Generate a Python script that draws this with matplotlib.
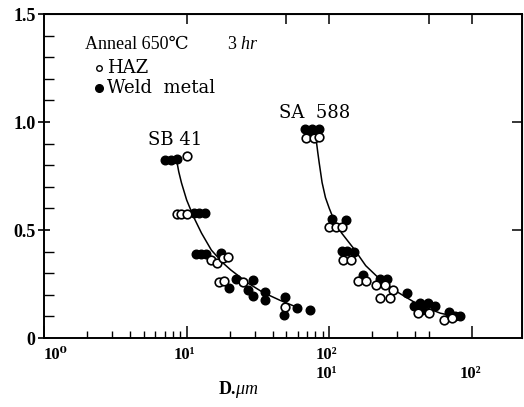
import matplotlib
matplotlib.use("Agg")
import matplotlib.pyplot as plt
from matplotlib.ticker import FixedLocator, NullFormatter, MultipleLocator
import numpy as np

plt.rcParams['font.family'] = ['Liberation Serif', 'DejaVu Serif']
plt.rcParams['mathtext.fontset'] = 'custom'
plt.rcParams['mathtext.rm'] = 'Liberation Serif'
plt.rcParams['mathtext.it'] = 'Liberation Serif:italic'
plt.rcParams['mathtext.bf'] = 'Liberation Serif:bold'

# ---- data (grain size D in um, ratio on y) ----
# SB 41 (read on the upper x scale)
sb_haz_d = [10.1, 8.5, 9.2, 10.0, 14.9, 16.3, 18.0, 19.5, 16.9, 18.3, 24.7, 49]
sb_haz_y = [0.845, 0.575, 0.575, 0.575, 0.36, 0.345, 0.37, 0.375, 0.26, 0.265, 0.26, 0.145]
sb_weld_d = [7.1, 7.8, 8.6, 11.2, 12.3, 13.5, 11.7, 12.7, 13.7, 17.4, 19.8, 22.1,
             29.0, 26.8, 29.4, 35.6, 35.6, 49, 48, 59, 73]
sb_weld_y = [0.825, 0.825, 0.83, 0.58, 0.58, 0.58, 0.39, 0.39, 0.39, 0.395, 0.23, 0.275,
             0.27, 0.22, 0.195, 0.215, 0.175, 0.19, 0.105, 0.14, 0.13]
sb_curve_d = [8.5, 8.8, 9.2, 10.0, 11.2, 12.7, 14.9, 18.0, 20.4, 26.8, 34.5, 45, 58]
sb_curve_y = [0.824, 0.77, 0.718, 0.639, 0.56, 0.486, 0.407, 0.347, 0.315, 0.255, 0.21, 0.175, 0.145]

# SA 588 (read on the lower, shifted x scale)
sa_haz_d = [6.9, 7.8, 8.4, 10.0, 11.2, 12.2, 12.5, 14.3, 16.0, 18.0, 21.4, 24.4, 27.8,
            22.5, 26.5, 42, 50, 63.5, 72]
sa_haz_y = [0.925, 0.925, 0.93, 0.515, 0.515, 0.515, 0.36, 0.36, 0.265, 0.265, 0.245, 0.245,
            0.22, 0.185, 0.185, 0.115, 0.115, 0.085, 0.093]
sa_weld_d = [6.8, 7.6, 8.4, 7.2, 8.1, 10.5, 13.1, 12.2, 13.4, 15.0, 17.1, 22.5, 25.2, 34.8,
             39, 43, 49, 55, 45, 69, 82, 76]
sa_weld_y = [0.97, 0.97, 0.97, 0.95, 0.95, 0.55, 0.545, 0.405, 0.405, 0.40, 0.29, 0.275, 0.275,
             0.21, 0.15, 0.16, 0.16, 0.15, 0.13, 0.12, 0.10, 0.10]
sa_curve_d = [8.13, 8.3, 8.5, 8.9, 9.4, 10.0, 10.8, 12.2, 15.0, 18.0, 22.0, 28.0, 42, 60, 85]
sa_curve_y = [0.907, 0.86, 0.81, 0.72, 0.65, 0.60, 0.545, 0.486, 0.41, 0.335, 0.28, 0.225, 0.155, 0.115, 0.093]

sa_shift = 10  # lower scale is shifted by one decade

fig = plt.figure(figsize=(5.24, 4.07), dpi=100)
ax = fig.add_axes([0.084, 0.1695, 0.912, 0.796])
ax.set_xscale('log')
ax.set_xlim(1, 2240)
ax.set_ylim(0, 1.5)

ms = 6.2
# curves
ax.plot(sb_curve_d, sb_curve_y, color='black', lw=1.1, zorder=2)
ax.plot(np.array(sa_curve_d) * sa_shift, sa_curve_y, color='black', lw=1.1, zorder=2)
# points
ax.plot(sb_weld_d, sb_weld_y, 'o', ms=ms, mfc='black', mec='black', mew=1, zorder=3)
ax.plot(np.array(sa_weld_d) * sa_shift, sa_weld_y, 'o', ms=ms, mfc='black', mec='black', mew=1, zorder=3)
ax.plot(sb_haz_d, sb_haz_y, 'o', ms=ms, mfc='white', mec='black', mew=1.2, zorder=4)
ax.plot(np.array(sa_haz_d) * sa_shift, sa_haz_y, 'o', ms=ms, mfc='white', mec='black', mew=1.2, zorder=4)

for s in ax.spines.values():
    s.set_linewidth(1.4)

# y ticks
ax.yaxis.set_major_locator(FixedLocator([0, 0.5, 1.0, 1.5]))
ax.yaxis.set_minor_locator(MultipleLocator(0.1))
ax.set_yticklabels(['0', '0.5', '1.0', '1.5'], fontsize=13, fontweight='bold')
ax.tick_params(axis='y', which='major', direction='inout', length=8, width=1.2, pad=2)
ax.tick_params(axis='y', which='minor', direction='in', length=7, width=1.0)

# x ticks
minor = [m * 10 ** e for e in range(0, 2) for m in range(2, 10)] + [200, 300, 400, 500]
ax.xaxis.set_major_locator(FixedLocator([1, 10, 100, 1000]))
ax.xaxis.set_minor_locator(FixedLocator(minor))
ax.xaxis.set_major_formatter(NullFormatter())
ax.xaxis.set_minor_formatter(NullFormatter())
ax.tick_params(axis='x', which='major', direction='in', length=9, width=1.1)
ax.tick_params(axis='x', which='minor', direction='in', length=5, width=1.0)

top = ax.secondary_xaxis('top')
top.set_xticks([10, 50, 100, 500, 1000])
top.xaxis.set_minor_locator(FixedLocator([]))
top.tick_params(direction='in', length=7, width=1.1, labeltop=False)
right = ax.secondary_yaxis('right')
right.set_yticks([0.5, 1.0])
right.yaxis.set_minor_locator(FixedLocator([]))
right.tick_params(direction='in', length=7, width=1.1, labelright=False)

# x tick labels (two scales)
tr = ax.get_xaxis_transform()
lab_kw = dict(fontsize=12, fontweight='bold', ha='center', va='center', transform=tr)
ax.text(1.2, -0.052, '10⁰', **lab_kw)
ax.text(9.6, -0.052, '10¹', **lab_kw)
ax.text(95, -0.052, '10²', **lab_kw)
ax.text(95, -0.11, '10¹', **lab_kw)
ax.text(980, -0.11, '10²', **lab_kw)
ax.text(23, -0.16, r'D.$\mathit{\mu m}$', fontsize=13, fontweight='bold',
        ha='center', va='center', transform=tr)

# annotations
ax.text(0.086, 0.907, 'Anneal 650℃', transform=ax.transAxes, fontsize=13,
        ha='left', va='center')
ax.text(0.383, 0.907, r'3 $\mathit{hr}$', transform=ax.transAxes, fontsize=13,
        ha='left', va='center')
ax.plot([0.115], [0.834], 'o', ms=4, mfc='white', mec='black', mew=1.0,
        transform=ax.transAxes, clip_on=False)
ax.plot([0.115], [0.771], 'o', ms=5.5, mfc='black', mec='black',
        transform=ax.transAxes, clip_on=False)
ax.text(0.132, 0.834, 'HAZ', transform=ax.transAxes, fontsize=13,
        ha='left', va='center', family=['DejaVu Serif'])
ax.text(0.132, 0.771, 'Weld  metal', transform=ax.transAxes, fontsize=13,
        ha='left', va='center', family=['DejaVu Serif'])
ax.text(0.274, 0.611, 'SB 41', transform=ax.transAxes, fontsize=13,
        ha='center', va='center', family=['DejaVu Serif'])
ax.text(0.567, 0.694, 'SA  588', transform=ax.transAxes, fontsize=13,
        ha='center', va='center', family=['DejaVu Serif'])

fig.savefig('out.png', dpi=100)
